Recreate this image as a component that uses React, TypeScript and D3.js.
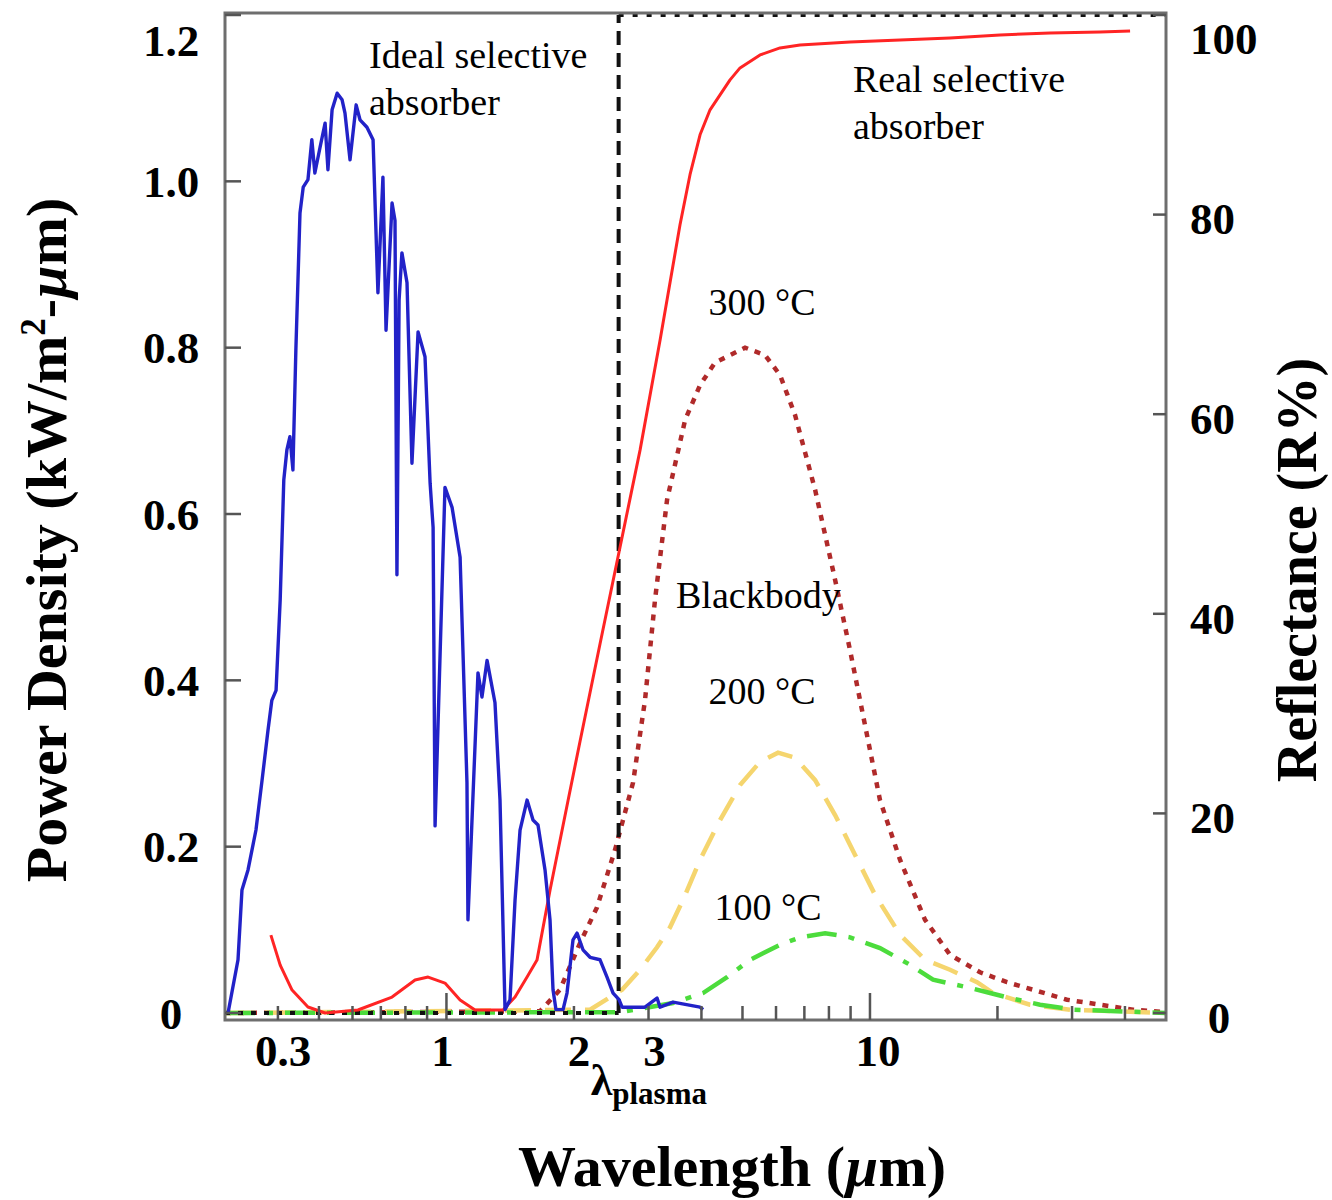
import React from "react";
import * as d3 from "d3";

// ---------------- data ----------------
// Solar spectrum (AM1.5), wavelength in µm, power density kW/m²-µm
const solarLambda = [
  0.305, 0.322, 0.329, 0.34, 0.355, 0.367, 0.379, 0.387, 0.396, 0.405, 0.413, 0.42, 0.427, 0.434, 0.441,
  0.451, 0.459, 0.471, 0.481, 0.489, 0.503, 0.517, 0.525, 0.537, 0.552, 0.567, 0.576, 0.592, 0.612, 0.625,
  0.649, 0.671, 0.689, 0.708, 0.72, 0.744, 0.756, 0.764, 0.773, 0.785, 0.807, 0.829, 0.857, 0.89, 0.915,
  0.93, 0.94, 0.992, 1.031, 1.077, 1.118, 1.124, 1.187, 1.213, 1.247, 1.302, 1.338, 1.375, 1.413, 1.452,
  1.492, 1.55, 1.601, 1.645, 1.709, 1.756, 1.785, 1.814, 1.885, 1.926, 1.99, 2.034, 2.101, 2.183, 2.305,
  2.394, 2.474, 2.556, 2.598, 2.943, 3.142, 3.194, 3.428, 3.97, 4.035,
];
const solarPower = [
  0, 0.064, 0.148, 0.172, 0.22, 0.28, 0.34, 0.376, 0.388, 0.497, 0.641, 0.677, 0.693, 0.653, 0.797,
  0.962, 0.993, 1.002, 1.05, 1.01, 1.041, 1.07, 1.014, 1.086, 1.106, 1.098, 1.082, 1.026, 1.092, 1.074,
  1.065, 1.05, 0.866, 1.005, 0.821, 0.974, 0.953, 0.527, 0.857, 0.914, 0.878, 0.661, 0.819, 0.789, 0.637,
  0.584, 0.225, 0.632, 0.608, 0.548, 0.277, 0.112, 0.409, 0.38, 0.424, 0.373, 0.256, 0.004, 0.016, 0.136,
  0.22, 0.256, 0.232, 0.226, 0.172, 0.112, 0.028, 0.004, 0.004, 0.024, 0.088, 0.096, 0.076, 0.067, 0.064,
  0.043, 0.024, 0.016, 0.007, 0.007, 0.018, 0.007, 0.013, 0.007, 0.004,
];

// Real selective absorber reflectance (R %)
const realLambda = [
  0.385, 0.405, 0.432, 0.471, 0.517, 0.618, 0.744, 0.843, 0.905, 0.992, 1.077, 1.168, 1.36, 1.452, 1.55,
  1.636, 1.756, 1.937, 2.067, 2.305, 2.57, 2.865, 3.194, 3.561, 3.759, 3.97, 4.192, 4.426, 4.673, 4.934,
  5.501, 6.133, 6.837, 8.975, 11.78, 15.45, 20.28, 26.62, 34.94, 41.13,
];
const realReflect = [
  7.8, 4.8, 2.3, 0.6, 0, 0.3, 1.6, 3.3, 3.6, 3.0, 1.3, 0.3, 0.3, 1.6, 3.6,
  5.3, 12.3, 21.3, 27.2, 37.0, 46.7, 56.4, 67.4, 79.0, 84.0, 88.0, 90.5, 92.0, 93.5, 94.7,
  96.0, 96.7, 97.0, 97.3, 97.5, 97.7, 98.0, 98.2, 98.3, 98.4,
];

// Ideal selective absorber (step at plasma wavelength)
const plasmaLambda = 2.55;
const idealLambda = [0.3, plasmaLambda, plasmaLambda, 50];
const idealReflect = [0, 0, 100, 100];

// Blackbody spectra (same left axis units)
const bb300Lambda = [
  0.3, 1.663, 1.854, 2.067, 2.267, 2.5, 2.758, 2.943, 3.108, 3.318, 3.66, 3.97, 4.307, 5.071, 5.653,
  6.133, 6.654, 7.422, 8.272, 8.975, 9.736, 10.56, 11.78, 13.49, 15.45, 18.19, 21.07, 24.26, 29.19,
  34.94, 41.8, 50,
];
const bb300Power = [
  0, 0.002, 0.028, 0.084, 0.127, 0.196, 0.277, 0.376, 0.497, 0.617, 0.713, 0.755, 0.782, 0.8, 0.791,
  0.767, 0.719, 0.629, 0.521, 0.436, 0.346, 0.256, 0.184, 0.112, 0.07, 0.049, 0.037, 0.028, 0.016,
  0.01, 0.004, 0.001,
];
const bb200Lambda = [
  0.3, 2.183, 2.598, 2.865, 3.142, 3.372, 3.619, 3.97, 4.426, 4.934, 5.501, 6.066, 6.654, 7.422, 8.272,
  9.222, 10.28, 11.78, 13.49, 15.45, 17.9, 19.53, 23.87, 29.68, 50,
];
const bb200Power = [
  0, 0.004, 0.028, 0.052, 0.079, 0.103, 0.136, 0.184, 0.232, 0.274, 0.302, 0.313, 0.307, 0.28, 0.238,
  0.19, 0.142, 0.094, 0.064, 0.052, 0.037, 0.024, 0.01, 0.004, 0,
];
const bb100Lambda = [
  0.3, 2.57, 3.428, 4.035, 4.597, 5.211, 6.133, 6.837, 7.836, 8.975, 10.56, 12.44, 14.09, 16.95, 19.21,
  21.42, 25.21, 30.17, 50,
];
const bb100Power = [
  0, 0.001, 0.012, 0.024, 0.043, 0.064, 0.082, 0.091, 0.096, 0.091, 0.078, 0.058, 0.04, 0.031, 0.024,
  0.018, 0.01, 0.004, 0,
];

// Axis ticks
const xTickValues = [0.3, 1, 2, 3, 10];
const xTickLabels = ["0.3", "1", "2", "3", "10"];
const xTickLabelShift = [58, -4, 5, 6, 8];
const leftTickValues = [0, 0.2, 0.4, 0.6, 0.8, 1.0, 1.2];
const leftTickLabels = ["0", "0.2", "0.4", "0.6", "0.8", "1.0", "1.2"];
const rightTickValues = [0, 20, 40, 60, 80, 100];
const rightTickLabels = ["0", "20", "40", "60", "80", "100"];

const FONT = "'Liberation Serif', 'Times New Roman', Times, serif";

export default function App() {
  const left = 225;
  const right = 1166;
  const top = 13;
  const bottom = 1020;

  const x = d3.scaleLog().domain([0.3, 50]).range([left, right]);
  const yL = d3.scaleLinear().domain([0, 1.2]).range([1013, 15]);
  const yR = d3.scaleLinear().domain([0, 100]).range([1013, 15]);

  const mk = (lam: number[], vals: number[], y: d3.ScaleLinear<number, number>) =>
    d3
      .line<number>()
      .x((_, i) => x(lam[i]))
      .y((d) => y(d))(vals) || "";

  const solarPath = mk(solarLambda, solarPower, yL);
  const realPath = mk(realLambda, realReflect, yR);
  const bb300Path = mk(bb300Lambda, bb300Power, yL);
  const bb200Path = mk(bb200Lambda, bb200Power, yL);
  const bb100Path = mk(bb100Lambda, bb100Power, yL);

  const xp = x(plasmaLambda);

  const minorTicks = x.ticks();

  return (
    <svg
      width={1332}
      height={1200}
      style={{ position: "absolute", left: 0, top: 0, background: "#fff" }}
      fontFamily={FONT}
    >
      <rect x={0} y={0} width={1332} height={1200} fill="#fff" />

      {/* blackbody curves */}
      <path d={bb300Path} fill="none" stroke="#b02a2a" strokeWidth={4.5} strokeDasharray="6,7" />
      <path d={bb200Path} fill="none" stroke="#f5d56e" strokeWidth={4.5} strokeDasharray="26,14" />
      <path d={bb100Path} fill="none" stroke="#4cdc3c" strokeWidth={4.5} strokeDasharray="30,12,6,12" />

      {/* ideal absorber: bottom dotted, vertical dashed, top dotted */}
      <line
        x1={x(idealLambda[0])}
        x2={x(idealLambda[1])}
        y1={yR(idealReflect[0])}
        y2={yR(idealReflect[1])}
        stroke="#111"
        strokeWidth={4}
        strokeDasharray="5,8"
      />
      <line
        x1={x(idealLambda[1])}
        x2={x(idealLambda[2])}
        y1={yR(idealReflect[1])}
        y2={yR(idealReflect[2])}
        stroke="#111"
        strokeWidth={4}
        strokeDasharray="14,8"
      />
      <line
        x1={x(idealLambda[2])}
        x2={x(idealLambda[3])}
        y1={yR(idealReflect[2])}
        y2={yR(idealReflect[3])}
        stroke="#111"
        strokeWidth={4}
        strokeDasharray="5,9"
      />

      {/* real absorber */}
      <path d={realPath} fill="none" stroke="#ff2424" strokeWidth={3} strokeLinejoin="round" />

      {/* solar spectrum */}
      <path d={solarPath} fill="none" stroke="#2222c8" strokeWidth={3.4} strokeLinejoin="round" />

      {/* frame */}
      <rect
        x={left}
        y={top}
        width={right - left}
        height={bottom - top}
        fill="none"
        stroke="#6e6e6e"
        strokeWidth={3}
      />

      {/* bottom ticks */}
      {minorTicks.map((t, i) => {
        const major = Math.abs(Math.log10(t) - Math.round(Math.log10(t))) < 1e-9;
        const xx = x(t);
        if (xx <= left + 2 || xx >= right - 2) return null;
        return (
          <line
            key={"xt" + i}
            x1={xx}
            x2={xx}
            y1={bottom}
            y2={bottom - (major ? 27 : 14)}
            stroke="#555"
            strokeWidth={2.5}
          />
        );
      })}
      {/* left ticks */}
      {leftTickValues.map((v, i) => (
        <line key={"lt" + i} x1={left} x2={left + 16} y1={yL(v)} y2={yL(v)} stroke="#555" strokeWidth={2.5} />
      ))}
      {/* right ticks */}
      {rightTickValues.map((v, i) => (
        <line key={"rt" + i} x1={right - 13} x2={right} y1={yR(v)} y2={yR(v)} stroke="#555" strokeWidth={2.5} />
      ))}

      {/* tick labels */}
      {xTickValues.map((v, i) => (
        <text
          key={"xl" + i}
          x={x(v) + xTickLabelShift[i]}
          y={1066}
          textAnchor="middle"
          fontSize={45}
          fontWeight="bold"
        >
          {xTickLabels[i]}
        </text>
      ))}
      {leftTickValues.map((v, i) => (
        <text
          key={"ll" + i}
          x={171}
          y={Math.max(yL(v), 40)}
          dy="0.35em"
          textAnchor="middle"
          fontSize={45}
          fontWeight="bold"
        >
          {leftTickLabels[i]}
        </text>
      ))}
      {rightTickValues.map((v, i) => (
        <text
          key={"rl" + i}
          x={i === 0 ? 1219 : 1190}
          y={Math.max(yR(v) + 4, 38)}
          dy="0.35em"
          textAnchor={i === 0 ? "middle" : "start"}
          fontSize={45}
          fontWeight="bold"
        >
          {rightTickLabels[i]}
        </text>
      ))}

      {/* lambda plasma */}
      <text x={xp - 28} y={1095} fontSize={44} fontWeight="bold">
        λ
        <tspan fontSize={31} dy={9}>
          plasma
        </tspan>
      </text>

      {/* axis titles */}
      <text x={732} y={1186} textAnchor="middle" fontSize={58} fontWeight="bold">
        Wavelength (<tspan fontStyle="italic">µ</tspan>m)
      </text>
      <text
        transform="translate(66,540) rotate(-90)"
        textAnchor="middle"
        fontSize={58}
        fontWeight="bold"
      >
        Power Density (kW/m
        <tspan fontSize={35} dy={-21}>
          2
        </tspan>
        <tspan dy={21}>-</tspan>
        <tspan fontStyle="italic">µ</tspan>m)
      </text>
      <text
        transform="translate(1316,570) rotate(-90)"
        textAnchor="middle"
        fontSize={56}
        fontWeight="bold"
      >
        Reflectance (R%)
      </text>

      {/* annotations */}
      <text x={369} y={68} fontSize={38}>
        Ideal selective
      </text>
      <text x={369} y={115} fontSize={38}>
        absorber
      </text>
      <text x={853} y={92} fontSize={38}>
        Real selective
      </text>
      <text x={853} y={139} fontSize={38}>
        absorber
      </text>
      <text x={762} y={315} textAnchor="middle" fontSize={38}>
        300 °C
      </text>
      <text x={676} y={608} fontSize={38}>
        Blackbody
      </text>
      <text x={762} y={704} textAnchor="middle" fontSize={38}>
        200 °C
      </text>
      <text x={768} y={920} textAnchor="middle" fontSize={38}>
        100 °C
      </text>
    </svg>
  );
}
